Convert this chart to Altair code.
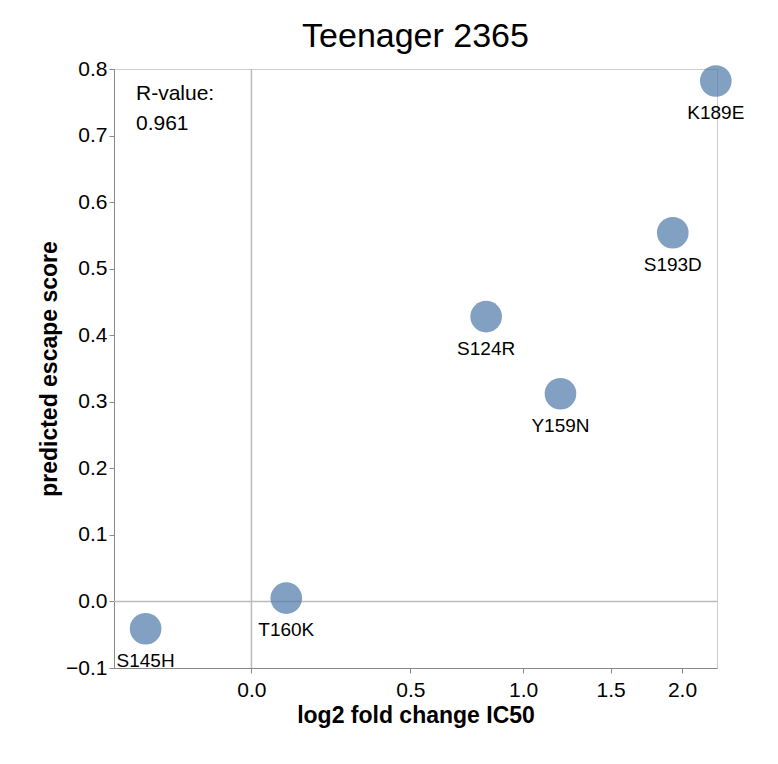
import altair as alt
import pandas as pd

mutations = ["S145H", "T160K", "S124R", "Y159N", "S193D", "K189E"]
fold_change = [-0.31, 0.093, 0.82, 1.20, 1.93, 2.27]
escape_score = [-0.041, 0.005, 0.428, 0.312, 0.554, 0.782]

df = pd.DataFrame({"mutation": mutations, "fc": fold_change, "score": escape_score})

xs = alt.Scale(type="symlog", domain=[-0.42, 2.28], nice=False, zero=False)
ys = alt.Scale(domain=[-0.1, 0.8], nice=False)
x_ax = alt.Axis(values=[0, 0.5, 1, 1.5, 2], format=".1f", labelFontSize=21, titleFontSize=23, grid=False, labelPadding=6)
y_ax = alt.Axis(format=".1f", labelFontSize=21, titleFontSize=23, grid=False, tickCount=10)

base = alt.Chart(df).encode(
    x=alt.X("fc:Q", scale=xs, axis=x_ax, title="log2 fold change IC50"),
    y=alt.Y("score:Q", scale=ys, axis=y_ax, title="predicted escape score"),
)

points = base.mark_circle(size=1000, color="#4c78a8", opacity=0.7)
labels = base.mark_text(dy=32, fontSize=19, color="black").encode(text="mutation:N")

zero = pd.DataFrame({"v": [0]})
vrule = alt.Chart(zero).mark_rule(color="#bbbbbb", strokeWidth=1.5).encode(x=alt.X("v:Q", scale=xs))
hrule = alt.Chart(zero).mark_rule(color="#bbbbbb", strokeWidth=1.5).encode(y=alt.Y("v:Q", scale=ys))

note = alt.Chart(pd.DataFrame({"t": [["R-value:", "0.961"]]})).mark_text(
    align="left", baseline="top", fontSize=21, lineHeight=30, color="black"
).encode(x=alt.value(22), y=alt.value(14), text="t")

chart = (vrule + hrule + points + labels + note).properties(
    width=603, height=599,
    padding={"left": 30, "top": 12, "right": 5, "bottom": 5},
    title=alt.TitleParams("Teenager 2365", fontSize=34, fontWeight="normal"),
).configure(font="Liberation Sans").configure_view(stroke="#cccccc")

chart.save("out.html", embed_options={"renderer": "svg", "actions": False})
